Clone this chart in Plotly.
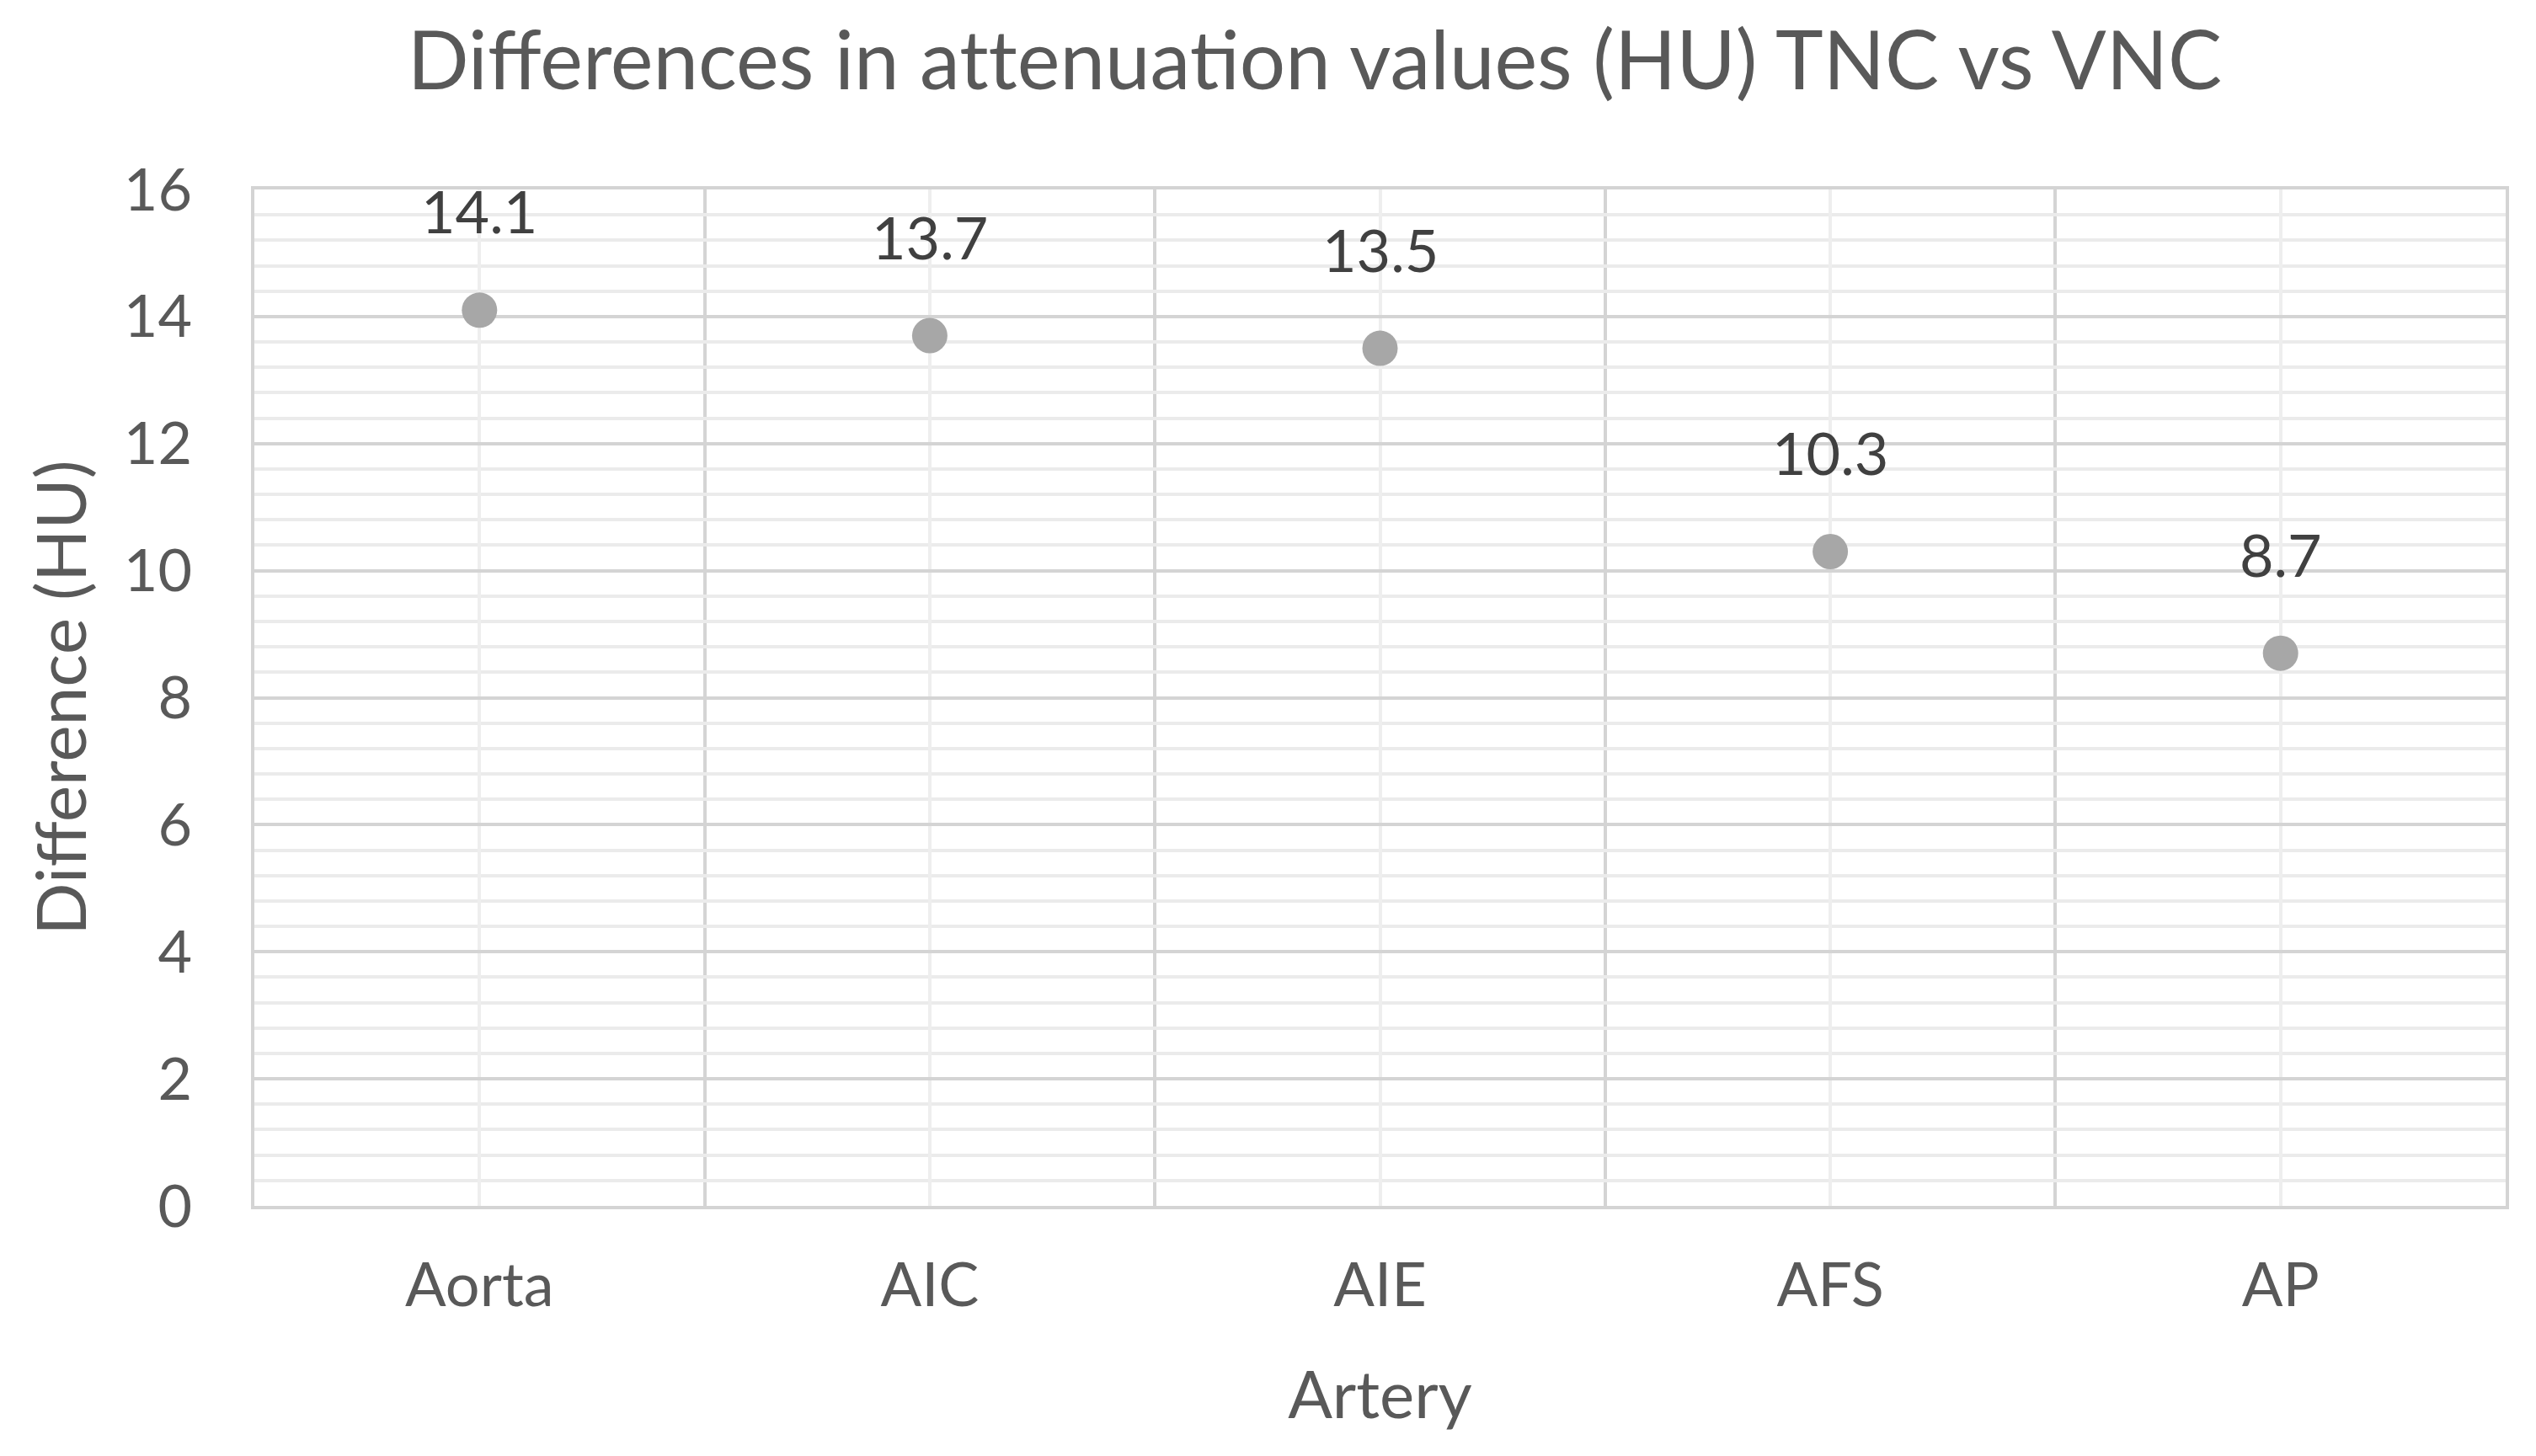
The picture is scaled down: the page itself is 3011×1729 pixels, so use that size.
import plotly.graph_objects as go

arteries = ["Aorta", "AIC", "AIE", "AFS", "AP"]
differences = [14.1, 13.7, 13.5, 10.3, 8.7]
y_ticks = [0, 2, 4, 6, 8, 10, 12, 14, 16]

FONT = "Lato"
W, H = 2995, 1713  # page body has an 8px margin on each side
xpos = list(range(len(arteries)))
boundaries = [i - 0.5 for i in range(len(arteries) + 1)]

fig = go.Figure()
fig.add_trace(go.Scatter(
    x=xpos, y=differences, mode="markers",
    marker=dict(size=42, color="#a7a7a7", line=dict(width=0)),
    showlegend=False, hoverinfo="skip",
))

for xv, yv in zip(xpos, differences):
    fig.add_annotation(
        x=xv, y=yv, xref="x", yref="y", text=f"{yv:.1f}",
        showarrow=False, yanchor="middle", yshift=118,
        font=dict(family=FONT, size=70, color="#404040"),
    )

fig.update_layout(
    width=W, height=H,
    margin=dict(l=294, r=28, t=217, b=289),
    paper_bgcolor="white", plot_bgcolor="white",
    title=dict(
        text="Differences in at\u200ctenuation values (HU) TNC vs VNC",
        x=1553 / W, xanchor="center", y=1 - 64 / H, yanchor="middle",
        font=dict(family=FONT, size=96, color="#595959"),
    ),
    font=dict(family=FONT, color="#595959"),
)

fig.update_xaxes(
    range=[-0.5, len(arteries) - 0.5],
    tickmode="array", tickvals=xpos, ticktext=arteries,
    tickfont=dict(family=FONT, size=72, color="#595959"),
    ticks="", ticklabelstandoff=29,
    showgrid=True, gridcolor="#eeeeee", gridwidth=4,
    minor=dict(tickmode="array", tickvals=boundaries, showgrid=True,
               gridcolor="#d4d4d4", gridwidth=4, ticks=""),
    showline=True, linecolor="#d4d4d4", linewidth=4, mirror=True,
    zeroline=False,
    title=dict(text="Artery", font=dict(family=FONT, size=78, color="#595959"),
               standoff=65),
)

fig.update_yaxes(
    range=[0, 16],
    tickmode="array", tickvals=y_ticks,
    tickfont=dict(family=FONT, size=70, color="#595959"),
    ticks="", ticklabelstandoff=56,
    showgrid=True, gridcolor="#d4d4d4", gridwidth=4,
    minor=dict(dtick=0.4, tick0=0, showgrid=True, gridcolor="#ebebeb",
               gridwidth=4, ticks=""),
    showline=True, linecolor="#d4d4d4", linewidth=4, mirror=True,
    zeroline=False,
    title=dict(text="Difference (HU)", font=dict(family=FONT, size=82, color="#595959"),
               standoff=18),
)

fig.write_html("out.html")
